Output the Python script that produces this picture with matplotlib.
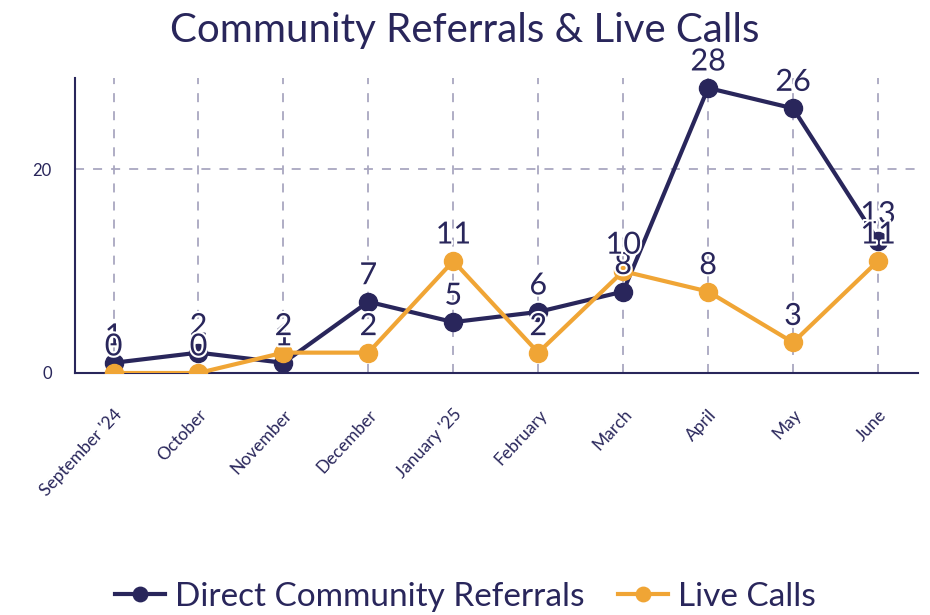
import matplotlib.pyplot as plt
import matplotlib.patheffects as pe

plt.rcParams['font.family'] = ['Lato', 'DejaVu Sans']

months = ["September '24", "October", "November", "December", "January '25",
          "February", "March", "April", "May", "June"]
direct_referrals = [1, 2, 1, 7, 5, 6, 8, 28, 26, 13]
live_calls = [0, 0, 2, 2, 11, 2, 10, 8, 3, 11]

navy = '#29265b'
orange = '#f0a535'
grid_color = '#a9a7c0'

fig = plt.figure(figsize=(9.3, 6.15), dpi=100)
ax = fig.add_axes([0.081, 0.3935, 0.906, 0.48])

x = list(range(len(months)))
halo = [pe.withStroke(linewidth=3, foreground='white')]

ax.plot(x, direct_referrals, color=navy, lw=3, marker='o', markersize=13,
        label='Direct Community Referrals', zorder=3)
ax.plot(x, live_calls, color=orange, lw=3, marker='o', markersize=13,
        label='Live Calls', zorder=4)

# value labels above each point
for xi, v in zip(x, direct_referrals):
    ax.annotate(str(v), (xi, v), xytext=(0, 9), textcoords='offset points',
                ha='center', va='bottom', fontsize=22, color=navy,
                path_effects=halo, zorder=5)
for xi, v in zip(x, live_calls):
    ax.annotate(str(v), (xi, v), xytext=(0, 9), textcoords='offset points',
                ha='center', va='bottom', fontsize=22, color=navy,
                path_effects=halo, zorder=6)

ax.set_xlim(-0.45, 9.47)
ax.set_ylim(0, 29)
ax.set_xticks(x)
ax.set_xticklabels(months, rotation=47, ha='right', rotation_mode='anchor',
                   fontsize=12.5, color=navy)
ax.set_yticks([0, 20])
ax.tick_params(axis='y', length=0, labelsize=12, labelcolor=navy, pad=17)
ax.tick_params(axis='x', length=0, pad=24)

ax.grid(True, color=grid_color, linestyle=(0, (5, 5)), lw=1.3)
ax.set_axisbelow(True)
for side in ['top', 'right']:
    ax.spines[side].set_visible(False)
for side in ['left', 'bottom']:
    ax.spines[side].set_color(navy)
    ax.spines[side].set_linewidth(1.5)

fig.text(0.5, 0.951, 'Community Referrals & Live Calls', fontsize=29, color=navy,
         ha='center', va='center')

fig.legend(loc='center', bbox_to_anchor=(0.5, 0.03), ncol=2, frameon=False,
           fontsize=24, labelcolor=navy, handlelength=1.5, columnspacing=1.0,
           handletextpad=0.3, markerscale=0.8)

fig.savefig('out.png', dpi=100)
